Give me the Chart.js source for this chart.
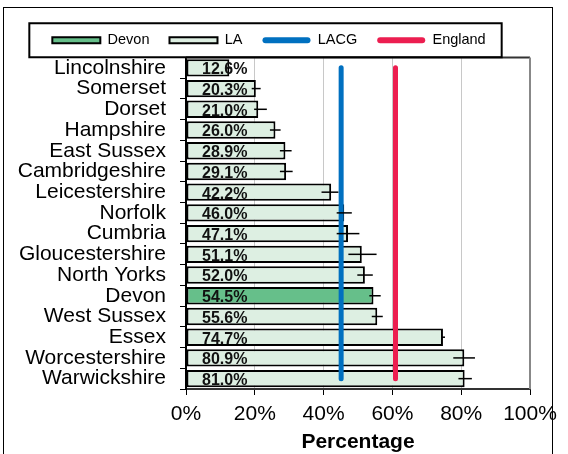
<!DOCTYPE html>
<html>
<head>
<meta charset="utf-8">
<script src="https://cdn.jsdelivr.net/npm/chart.js@4"></script>
<style>
  html, body { margin: 0; padding: 0; background: #fff; }
  #wrap { position: relative; width: 568px; height: 454px; }
</style>
</head>
<body>
<div id="wrap"><canvas id="c" width="568" height="454"></canvas></div>
<script>
const categories = ['Lincolnshire','Somerset','Dorset','Hampshire','East Sussex','Cambridgeshire','Leicestershire','Norfolk','Cumbria','Gloucestershire','North Yorks','Devon','West Sussex','Essex','Worcestershire','Warwickshire'];
const devonValues = [null,null,null,null,null,null,null,null,null,null,null,54.5,null,null,null,null];
const laValues = [12.6,20.3,21.0,26.0,28.9,29.1,42.2,46.0,47.1,51.1,52.0,null,55.6,74.7,80.9,81.0];
const labelValues = [12.6,20.3,21.0,26.0,28.9,29.1,42.2,46.0,47.1,51.1,52.0,54.5,55.6,74.7,80.9,81.0];
const errLow  = [12.0,19.1,19.8,24.4,27.3,27.3,39.4,43.8,43.8,47.2,49.8,53.3,54.0,74.3,77.7,79.2];
const errHigh = [13.2,21.7,23.5,27.5,30.7,31.0,44.3,48.2,50.4,55.4,54.3,56.6,57.2,75.3,84.0,83.1];
const lacgValue = 45.1;
const englandValue = 60.9;
const xTickLabels = ['0%','20%','40%','60%','80%','100%'];

const COL_DEVON = '#66BF8A';
const COL_LA = '#DDEFE2';
const COL_LACG = '#0070C0';
const COL_ENG = '#EC1E50';

const FONT = 'Arial, "Liberation Sans", sans-serif';

const framePlugin = {
  id: 'frame',
  beforeDraw(chart) {
    const ctx = chart.ctx;
    ctx.save();
    ctx.fillStyle = '#fff';
    ctx.fillRect(0, 0, chart.width, chart.height);
    ctx.strokeStyle = '#000';
    ctx.lineWidth = 1;
    ctx.strokeRect(3.5, 7.5, 549, 470);
    ctx.restore();
  },
  afterDraw(chart) {
    const ctx = chart.ctx;
    const a = chart.chartArea;
    ctx.save();
    ctx.strokeStyle = '#333';
    ctx.lineWidth = 2;
    ctx.beginPath();
    ctx.moveTo(a.left, a.top);
    ctx.lineTo(a.right, a.top);
    ctx.stroke();
    ctx.strokeStyle = '#888';
    ctx.beginPath();
    ctx.moveTo(a.right, a.top);
    ctx.lineTo(a.right, a.bottom);
    ctx.stroke();
    const hb = chart.legend.legendHitBoxes;
    if (hb && hb.length) {
      const left = hb[0].left - 23;
      const last = hb[hb.length - 1];
      const right = last.left + last.width + 16;
      const cy = hb[0].top + hb[0].height / 2;
      ctx.strokeStyle = '#000';
      ctx.lineWidth = 2;
      ctx.strokeRect(left, cy - 17, right - left, 34);
    }
    ctx.restore();
  },
  afterDatasetsDraw(chart) {
    const ctx = chart.ctx;
    const xs = chart.scales.x, ys = chart.scales.y;
    ctx.save();
    ctx.strokeStyle = '#000';
    ctx.lineWidth = 1.5;
    for (let i = 0; i < categories.length; i++) {
      const y = ys.getPixelForValue(i);
      ctx.beginPath();
      ctx.moveTo(xs.getPixelForValue(errLow[i]), y);
      ctx.lineTo(xs.getPixelForValue(errHigh[i]), y);
      ctx.stroke();
    }
    ctx.fillStyle = '#111';
    ctx.font = 'bold 16px ' + FONT;
    ctx.textAlign = 'left';
    ctx.textBaseline = 'middle';
    const x0 = xs.getPixelForValue(0);
    for (let i = 0; i < categories.length; i++) {
      const y = ys.getPixelForValue(i);
      ctx.fillText(labelValues[i].toFixed(1) + '%', x0 + 16, y + 2);
    }
    ctx.restore();
  }
};

const legendItems = [
  { text: 'Devon', fillStyle: COL_DEVON, strokeStyle: '#000', lineWidth: 2, borderRadius: 0, datasetIndex: 0 },
  { text: 'LA', fillStyle: COL_LA, strokeStyle: '#000', lineWidth: 2, borderRadius: 0, datasetIndex: 1 },
  { text: 'LACG', fillStyle: COL_LACG, strokeStyle: COL_LACG, lineWidth: 0, borderRadius: 3, datasetIndex: 2 },
  { text: 'England', fillStyle: COL_ENG, strokeStyle: COL_ENG, lineWidth: 0, borderRadius: 3, datasetIndex: 3 }
];

new Chart(document.getElementById('c'), {
  type: 'bar',
  data: {
    labels: categories,
    datasets: [
      { label: 'Devon', data: devonValues, backgroundColor: COL_DEVON, borderColor: '#000', borderWidth: 2, borderSkipped: false, grouped: false, barPercentage: 0.84, categoryPercentage: 1, order: 1 },
      { label: 'LA', data: laValues, backgroundColor: COL_LA, borderColor: '#000', borderWidth: 2, borderSkipped: false, grouped: false, barPercentage: 0.84, categoryPercentage: 1, order: 1 },
      { type: 'line', label: 'LACG', data: [{x: lacgValue, y: categories[0]}, {x: lacgValue, y: categories[categories.length - 1]}], borderColor: COL_LACG, borderWidth: 5, borderCapStyle: 'round', pointRadius: 0, fill: false, order: 0 },
      { type: 'line', label: 'England', data: [{x: englandValue, y: categories[0]}, {x: englandValue, y: categories[categories.length - 1]}], borderColor: COL_ENG, borderWidth: 5, borderCapStyle: 'round', pointRadius: 0, fill: false, order: 0 }
    ]
  },
  options: {
    indexAxis: 'y',
    responsive: false,
    animation: false,
    devicePixelRatio: 1,
    layout: { padding: { top: 13, left: 8, right: 38, bottom: 0 } },
    plugins: {
      legend: {
        position: 'top',
        labels: {
          font: { size: 14.5, family: FONT },
          color: '#000',
          boxWidth: 48,
          boxHeight: 6,
          padding: 20,
          generateLabels: () => legendItems.map(o => Object.assign({}, o))
        }
      },
      tooltip: { enabled: false }
    },
    scales: {
      x: {
        type: 'linear',
        min: 0, max: 100,
        afterBuildTicks: (s) => { s.ticks = xTickLabels.map((t, i) => ({ value: i * 20 })); },
        afterFit: (s) => { s.height = 65; },
        ticks: { font: { size: 21, family: FONT }, color: '#000', padding: 7, callback: (v, i) => xTickLabels[i] },
        grid: { color: (c) => (c.tick && (c.tick.value === 0 || c.tick.value === 100)) ? 'rgba(0,0,0,0)' : '#C8C8C8', tickColor: '#000', tickLength: 6, lineWidth: 1 },
        border: { color: '#333', width: 2 },
        title: { display: true, text: 'Percentage', font: { size: 21, weight: 'bold', family: FONT }, color: '#000', padding: { top: 0, bottom: -1 } }
      },
      y: {
        type: 'category',
        offset: true,
        afterFit: (s) => { s.width = 178; },
        ticks: { font: { size: 21, family: FONT }, color: '#000', padding: 14, autoSkip: false },
        grid: { display: true, drawOnChartArea: false, offset: true, color: '#000', tickLength: 6 },
        border: { color: '#000', width: 2 }
      }
    }
  },
  plugins: [framePlugin]
});
</script>
</body>
</html>
